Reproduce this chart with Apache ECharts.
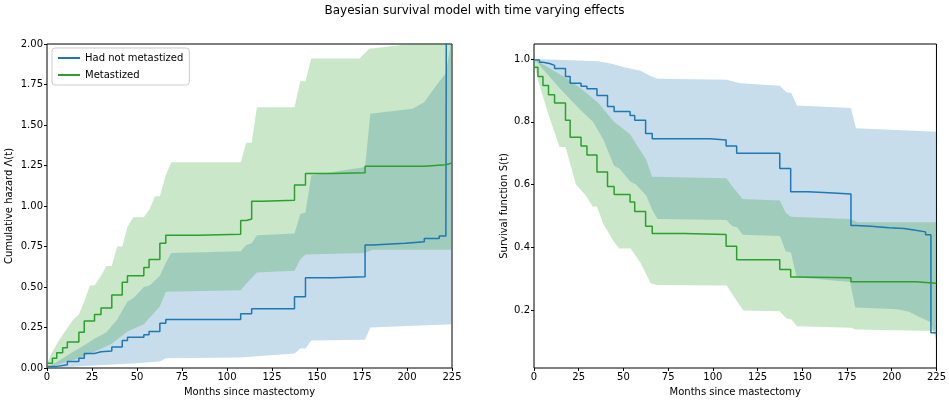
<!DOCTYPE html>
<html><head><meta charset="utf-8">
<script src="https://cdn.jsdelivr.net/npm/echarts@6/dist/echarts.min.js"></script>
<style>html,body{margin:0;padding:0;background:#fff}#c{width:949px;height:402px}</style>
</head><body><div id="c"></div>
<script>
// Cumulative hazard step lines [month, value]
const hazNotMet = [[0,0.01],[5.4,0.02],[11.3,0.04],[17.7,0.06],[20.7,0.09],[26.4,0.10],[30,0.105],[36,0.13],[41.8,0.17],[44.7,0.19],[53.8,0.205],[56.7,0.225],[62.7,0.277],[66,0.30],[107.6,0.335],[113.7,0.365],[137.5,0.44],[143.6,0.557],[158.8,0.563],[176.7,0.76],[181,0.77],[199,0.78],[209.6,0.80],[217.9,0.815],[221.6,0.83],[222,3.0],[225,3.0]];
const hazMet = [[0,0.03],[3,0.06],[5.4,0.094],[8.7,0.125],[11.3,0.16],[17.7,0.22],[20.7,0.29],[26.4,0.33],[30,0.37],[36,0.45],[41.8,0.53],[44.7,0.57],[53.8,0.62],[56.7,0.67],[62.7,0.77],[66,0.82],[84,0.825],[107.6,0.91],[110.7,0.92],[113.7,1.03],[119.6,1.035],[137.5,1.13],[143.6,1.20],[158.8,1.205],[176.7,1.245],[209.6,1.255],[221.6,1.265],[225,1.265]];
// Hazard credible bands
const hazNotMetLow = [[0,0],[50,0.03],[62.7,0.04],[66,0.06],[107,0.065],[137.5,0.09],[140.7,0.12],[143.6,0.12],[146.8,0.17],[176.7,0.175],[179.6,0.25],[225,0.27]];
const hazNotMetHigh = [[0,0],[14.6,0.10],[20.7,0.14],[26.4,0.18],[33,0.22],[39,0.30],[44.7,0.41],[47.9,0.43],[53.8,0.50],[57,0.51],[62.7,0.57],[66,0.65],[69,0.71],[107.6,0.72],[110.7,0.76],[113.7,0.77],[116.6,0.82],[137.5,0.83],[140.7,0.95],[143.6,0.96],[146.8,1.19],[176.7,1.24],[179.6,1.57],[203,1.60],[209.6,1.64],[216,1.74],[221.6,1.82],[225,2.05]];
const hazMetLow = [[0,0],[17.7,0.06],[26.4,0.10],[36,0.15],[44.7,0.225],[53.8,0.27],[57,0.31],[62.7,0.38],[66,0.47],[107.6,0.48],[110.7,0.52],[116.6,0.59],[137.5,0.60],[140.7,0.67],[143.6,0.70],[176.7,0.71],[181,0.73],[225,0.73]];
const hazMetHigh = [[0,0.03],[3,0.10],[7.2,0.18],[14.6,0.30],[17.7,0.33],[20.7,0.41],[23.8,0.51],[26.4,0.51],[30,0.57],[33,0.63],[36,0.63],[39,0.75],[41.8,0.75],[44.7,0.87],[47.9,0.93],[53.8,0.93],[57,0.98],[60,1.06],[62.7,1.06],[66,1.19],[69,1.27],[107.6,1.27],[110.7,1.39],[113.7,1.39],[116.6,1.61],[137.5,1.61],[140.7,1.77],[143.6,1.77],[146.8,1.91],[173.6,1.91],[179,1.97],[225,2.03]];
// Survival step lines
const survNotMet = [[0,0.997],[3.1,0.99],[5,0.986],[8.7,0.98],[11.5,0.97],[17.6,0.944],[20.2,0.923],[26.3,0.913],[29.6,0.905],[35.2,0.884],[41.1,0.849],[44.8,0.833],[53.7,0.82],[56.3,0.805],[62.4,0.763],[66.1,0.746],[98.5,0.742],[107.4,0.723],[113.3,0.70],[137.4,0.651],[143.5,0.577],[153.1,0.574],[164.8,0.57],[177.2,0.469],[180,0.467],[188.3,0.462],[198.5,0.46],[206.9,0.454],[213.3,0.449],[218.9,0.44],[221.9,0.127],[225,0.127]];
const survMet = [[0,0.974],[2.2,0.944],[5,0.916],[8.1,0.886],[11.5,0.86],[17.6,0.805],[20.2,0.751],[26.3,0.723],[29.6,0.694],[35.2,0.64],[41.1,0.594],[44.8,0.568],[53.7,0.544],[56.3,0.514],[62.4,0.467],[66.1,0.444],[83.7,0.441],[107.4,0.403],[113.3,0.36],[137.4,0.329],[143.5,0.305],[146.7,0.303],[177.2,0.29],[213.3,0.285],[225,0.283]];
// Survival bands
const survNotMetLow = [[0,1],[14.6,0.905],[20.7,0.869],[26.4,0.835],[33,0.80],[39,0.74],[44.7,0.66],[47.9,0.65],[53.8,0.61],[57,0.60],[62.7,0.565],[66,0.52],[69,0.49],[107.6,0.487],[110.7,0.468],[113.7,0.463],[116.6,0.44],[137.5,0.436],[140.7,0.387],[143.6,0.383],[146.8,0.304],[176.7,0.289],[179.6,0.208],[203,0.202],[209.6,0.194],[216,0.176],[221.6,0.162],[225,0.10]];
const survNotMetHigh = [[0,1],[17,0.997],[35.6,0.993],[43,0.986],[50.4,0.974],[59.6,0.963],[65.2,0.946],[68.9,0.937],[107.8,0.934],[115.2,0.923],[137.4,0.915],[141.1,0.894],[143.9,0.892],[147,0.852],[177.2,0.844],[180,0.779],[225,0.768]];
const survMetLow = [[0,0.99],[2.2,0.934],[7.8,0.828],[14.3,0.72],[17.6,0.72],[23.5,0.60],[29,0.565],[32.8,0.53],[35.2,0.53],[38.7,0.475],[44.4,0.42],[47.6,0.396],[54.1,0.396],[59.6,0.35],[65.2,0.285],[68.9,0.28],[107.8,0.278],[111.1,0.248],[117,0.198],[137.4,0.196],[141.1,0.173],[143.9,0.17],[147,0.148],[177.2,0.143],[180,0.138],[225,0.133]];
const survMetHigh = [[0,1],[17.7,0.94],[26.4,0.905],[36,0.86],[44.7,0.80],[53.8,0.76],[57,0.73],[62.7,0.68],[66,0.625],[107.6,0.62],[110.7,0.595],[116.6,0.554],[137.5,0.549],[140.7,0.51],[143.6,0.497],[176.7,0.49],[181,0.48],[225,0.48]];
const xTicks = [0,25,50,75,100,125,150,175,200,225];
const survTicks = [0.2,0.4,0.6,0.8,1.0];

const BLUE = '#1f77b4', GREEN = '#2ca02c';
const FONT = 'DejaVu Sans';
function band(name, low, high, color, idx) {
  return {
    type: 'custom', name: name, xAxisIndex: idx, yAxisIndex: idx, silent: true, z: 1,
    clip: true, data: [0],
    renderItem: function (params, api) {
      const pts = high.map(p => api.coord(p)).concat(low.slice().reverse().map(p => api.coord(p)));
      return { type: 'polygon', shape: { points: pts },
        style: { fill: color, opacity: 0.25 },
        clipPath: { type: 'rect', shape: { x: params.coordSys.x, y: params.coordSys.y, width: params.coordSys.width, height: params.coordSys.height } } };
    }
  };
}
function stepLine(name, data, color, idx) {
  return { type: 'line', name: name, step: 'end', data: data, xAxisIndex: idx, yAxisIndex: idx,
    showSymbol: false, symbol: 'none', clip: true, z: 3, lineStyle: { color: color, width: 1.5 }, itemStyle: { color: color } };
}
function xAxis(idx) {
  return { type: 'value', gridIndex: idx, min: 0, max: 225, interval: 25,
    name: 'Months since mastectomy', nameLocation: 'middle', nameGap: 19,
    nameTextStyle: { fontFamily: FONT, fontSize: 10, color: '#000' },
    axisLine: { show: false }, axisTick: { show: true, length: 3, lineStyle: { color: '#000' } },
    axisLabel: { fontFamily: FONT, fontSize: 10, color: '#000', margin: 4 }, splitLine: { show: false } };
}
const chart = echarts.init(document.getElementById('c'));
chart.setOption({
  animation: false,
  title: { text: 'Bayesian survival model with time varying effects', left: 'center', top: 0,
    textStyle: { fontFamily: FONT, fontSize: 12, fontWeight: 'normal', color: '#000' } },
  grid: [
    { left: 47, right: 497, top: 44, bottom: 32, show: true, borderColor: '#000', borderWidth: 1, backgroundColor: 'transparent' },
    { left: 534, right: 10, top: 44, bottom: 32, show: true, borderColor: '#000', borderWidth: 1, backgroundColor: 'transparent' }
  ],
  legend: { data: ['Had not metastized', 'Metastized'], orient: 'vertical', left: 52, top: 48,
    backgroundColor: '#fff', borderColor: '#ccc', borderWidth: 1, borderRadius: 3, padding: [5, 6],
    itemWidth: 22, itemHeight: 2, itemGap: 7, icon: 'rect',
    textStyle: { fontFamily: FONT, fontSize: 10, color: '#000' } },
  xAxis: [xAxis(0), xAxis(1)],
  yAxis: [
    { type: 'value', gridIndex: 0, min: 0, max: 2, interval: 0.25,
      name: 'Cumulative hazard Λ(t)', nameLocation: 'middle', nameGap: 33,
      nameTextStyle: { fontFamily: FONT, fontSize: 10, color: '#000' },
      axisLine: { show: false }, axisTick: { show: true, length: 3, lineStyle: { color: '#000' } },
      axisLabel: { fontFamily: FONT, fontSize: 10, color: '#000', margin: 4, formatter: v => v.toFixed(2) }, splitLine: { show: false } },
    { type: 'value', gridIndex: 1, min: 0.015, max: 1.048,
      name: 'Survival function S(t)', nameLocation: 'middle', nameGap: 25,
      nameTextStyle: { fontFamily: FONT, fontSize: 10, color: '#000' },
      axisLine: { show: false }, axisTick: { show: true, length: 3, customValues: survTicks, lineStyle: { color: '#000' } },
      axisLabel: { fontFamily: FONT, fontSize: 10, color: '#000', margin: 4, customValues: survTicks, formatter: v => v.toFixed(1) }, splitLine: { show: false } }
  ],
  series: [
    band('bNM0', hazNotMetLow, hazNotMetHigh, BLUE, 0),
    band('bM0', hazMetLow, hazMetHigh, GREEN, 0),
    stepLine('Had not metastized', hazNotMet, BLUE, 0),
    stepLine('Metastized', hazMet, GREEN, 0),
    band('bNM1', survNotMetLow, survNotMetHigh, BLUE, 1),
    band('bM1', survMetLow, survMetHigh, GREEN, 1),
    { ...stepLine('Had not metastized', survNotMet, BLUE, 1) },
    { ...stepLine('Metastized', survMet, GREEN, 1) }
  ]
});
</script></body></html>
